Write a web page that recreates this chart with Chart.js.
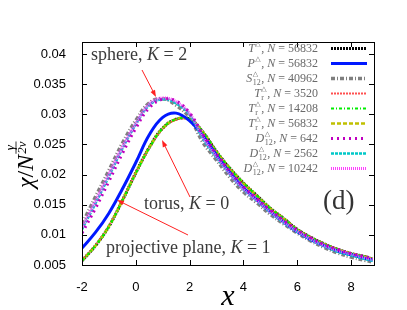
<!DOCTYPE html>
<html>
<head>
<meta charset="utf-8">
<script src="https://cdn.jsdelivr.net/npm/chart.js@4.4.0/dist/chart.umd.min.js"></script>
<style>
  html, body { margin: 0; padding: 0; background: #fff; }
  canvas { display: block; }
</style>
</head>
<body>
<canvas id="chiChart" width="407" height="310"></canvas>
<script>
// scaling variable x and the rescaled susceptibility
var xs = [-2, -1.5, -1, -0.5, 0, 0.5, 1, 1.5, 2, 2.5, 3, 3.5, 4, 4.5, 5, 5.5, 6, 6.5, 7, 7.5, 8, 8.5, 8.8];

// projective plane (K = 1)
var chiT56832   = [0.0057, 0.0082, 0.0114, 0.0157, 0.0203, 0.0245, 0.0277, 0.0292, 0.0292, 0.0270, 0.0238, 0.0210, 0.0186, 0.0165, 0.0144, 0.0127, 0.0109, 0.0096, 0.0085, 0.0076, 0.0069, 0.0064, 0.0060];
var chiTr3520   = [0.0058, 0.0083, 0.0115, 0.0158, 0.0203, 0.0244, 0.0276, 0.0291, 0.0291, 0.0269, 0.0237, 0.0209, 0.0185, 0.0164, 0.0143, 0.0126, 0.0108, 0.0095, 0.0084, 0.0076, 0.0069, 0.0063, 0.0060];
var chiTr14208  = [0.0057, 0.0082, 0.0114, 0.0157, 0.0202, 0.0244, 0.0277, 0.0292, 0.0292, 0.0270, 0.0238, 0.0210, 0.0186, 0.0165, 0.0144, 0.0127, 0.0109, 0.0096, 0.0085, 0.0076, 0.0069, 0.0064, 0.0060];
var chiTr56832  = [0.0057, 0.0082, 0.0114, 0.0157, 0.0203, 0.0245, 0.0277, 0.0292, 0.0292, 0.0270, 0.0238, 0.0210, 0.0186, 0.0165, 0.0144, 0.0127, 0.0109, 0.0096, 0.0085, 0.0076, 0.0069, 0.0064, 0.0060];
// torus (K = 0)
var chiP56832   = [0.0078, 0.0104, 0.0136, 0.0176, 0.0220, 0.0266, 0.0295, 0.0302, 0.0289, 0.0264, 0.0232, 0.0203, 0.0178, 0.0158, 0.0138, 0.0121, 0.0105, 0.0092, 0.0082, 0.0073, 0.0067, 0.0061, 0.0058];
// sphere (K = 2)
var chiS40962   = [0.0118, 0.0163, 0.0207, 0.0252, 0.0290, 0.0319, 0.0326, 0.0315, 0.0294, 0.0253, 0.0224, 0.0195, 0.0171, 0.0153, 0.0134, 0.0118, 0.0103, 0.0090, 0.0079, 0.0070, 0.0063, 0.0058, 0.0055];
var chiD642     = [0.0103, 0.0144, 0.0189, 0.0235, 0.0277, 0.0311, 0.0325, 0.0322, 0.0302, 0.0266, 0.0234, 0.0205, 0.0180, 0.0160, 0.0141, 0.0124, 0.0108, 0.0095, 0.0084, 0.0076, 0.0069, 0.0064, 0.0061];
var chiD2562    = [0.0109, 0.0152, 0.0197, 0.0243, 0.0283, 0.0315, 0.0325, 0.0318, 0.0299, 0.0259, 0.0228, 0.0200, 0.0175, 0.0156, 0.0137, 0.0120, 0.0105, 0.0092, 0.0081, 0.0072, 0.0066, 0.0060, 0.0057];
var chiD10242   = [0.0112, 0.0156, 0.0201, 0.0246, 0.0285, 0.0317, 0.0327, 0.0321, 0.0301, 0.0262, 0.0230, 0.0201, 0.0176, 0.0157, 0.0138, 0.0121, 0.0106, 0.0093, 0.0082, 0.0074, 0.0068, 0.0062, 0.0059];

// legend pieces: lattice letter, subscript, N
var latLetter = ['T', 'P', 'S', 'T', 'T', 'T', 'D', 'D', 'D'];
var latSub    = ['', '', '12', 'r', 'r', 'r', '12', '12', '12'];
var latN      = [56832, 56832, 40962, 3520, 14208, 56832, 642, 2562, 10242];

var xTicks = [-2, 0, 2, 4, 6, 8];
var yTicks = [0.005, 0.01, 0.015, 0.02, 0.025, 0.03, 0.035, 0.04];

var SERIF = '"Liberation Serif", "DejaVu Serif", serif';
var SANS = '"Liberation Sans", Arial, sans-serif';

function pts(ys) {
    return xs.map(function(x, i) { return { x: x, y: ys[i] }; });
}

function mkSet(ys, color, width, dash, order) {
    return {
        data: pts(ys),
        borderColor: color,
        backgroundColor: color,
        borderWidth: width,
        borderDash: dash,
        order: order,
        pointRadius: 0,
        tension: 0.4,
        fill: false
    };
}

function drawLabel(ctx, xr, y, letter, sub, n) {
    var fBig = '12px ' + SERIF, fIt = 'italic 12px ' + SERIF, fSm = '8px ' + SERIF, fTri = '7px "DejaVu Sans"';
    ctx.font = fIt; var wL = ctx.measureText(letter).width; var wN = ctx.measureText('N').width;
    ctx.font = fTri; var wT = ctx.measureText('\u25B3').width;
    ctx.font = fSm; var wS = sub ? ctx.measureText(sub).width : 0;
    ctx.font = fBig; var wC = ctx.measureText(', ').width; var wE = ctx.measureText(' = ' + n).width;
    var wScript = Math.max(wT, wS) + 1;
    var x = xr - (wL + wScript + wC + wN + wE);
    ctx.textBaseline = 'alphabetic';
    ctx.textAlign = 'left';
    var base = y + 4;
    ctx.font = fIt; ctx.fillText(letter, x, base); x += wL;
    ctx.font = fTri; ctx.fillText('\u25B3', x + 0.5, base - 6);
    if (sub) { ctx.font = fSm; ctx.fillText(sub, x + 0.5, base + 3); }
    x += wScript;
    ctx.font = fBig; ctx.fillText(', ', x, base); x += wC;
    ctx.font = fIt; ctx.fillText('N', x, base); x += wN;
    ctx.font = fBig; ctx.fillText(' = ' + n, x, base);
}

function arrow(ctx, x0, y0, x1, y1) {
    var a = Math.atan2(y1 - y0, x1 - x0), L = 7, W = 2.5;
    ctx.beginPath();
    ctx.moveTo(x0, y0);
    ctx.lineTo(x1 - Math.cos(a) * L * 0.8, y1 - Math.sin(a) * L * 0.8);
    ctx.stroke();
    ctx.beginPath();
    ctx.moveTo(x1, y1);
    ctx.lineTo(x1 - L * Math.cos(a) + W * Math.sin(a), y1 - L * Math.sin(a) - W * Math.cos(a));
    ctx.lineTo(x1 - L * Math.cos(a) - W * Math.sin(a), y1 - L * Math.sin(a) + W * Math.cos(a));
    ctx.closePath();
    ctx.fill();
}

var decor = {
    id: 'decor',
    afterDraw: function(chart) {
        var ctx = chart.ctx, ca = chart.chartArea;
        var xs_ = chart.scales.x, ys_ = chart.scales.y;
        ctx.save();
        // frame and inward ticks
        ctx.strokeStyle = '#000';
        ctx.lineWidth = 1;
        ctx.setLineDash([]);
        ctx.strokeRect(Math.round(ca.left) + 0.5, Math.round(ca.top) + 0.5, Math.round(ca.right - ca.left), Math.round(ca.bottom - ca.top));
        ctx.beginPath();
        xTicks.forEach(function(v) {
            var p = Math.round(xs_.getPixelForValue(v)) + 0.5;
            ctx.moveTo(p, ca.bottom); ctx.lineTo(p, ca.bottom - 5);
            ctx.moveTo(p, ca.top); ctx.lineTo(p, ca.top + 5);
        });
        yTicks.forEach(function(v) {
            var p = Math.round(ys_.getPixelForValue(v)) + 0.5;
            ctx.moveTo(ca.left, p); ctx.lineTo(ca.left + 5, p);
            ctx.moveTo(ca.right, p); ctx.lineTo(ca.right - 5, p);
        });
        ctx.stroke();

        // legend
        chart.data.datasets.forEach(function(ds, i) {
            var y = 48 + i * 15;
            ctx.fillStyle = '#6a6a6a';
            drawLabel(ctx, 318, y, latLetter[i], latSub[i], latN[i]);
            ctx.strokeStyle = ds.borderColor;
            ctx.lineWidth = ds.borderWidth;
            ctx.setLineDash(ds.borderDash || []);
            ctx.beginPath();
            ctx.moveTo(331, y + 0.5); ctx.lineTo(367, y + 0.5);
            ctx.stroke();
        });
        ctx.setLineDash([]);

        // annotations
        ctx.fillStyle = '#3a3a3a';
        ctx.textBaseline = 'alphabetic';
        ctx.textAlign = 'left';
        function note(parts, x, y, size) {
            parts.forEach(function(p) {
                ctx.font = (p[1] ? 'italic ' : '') + size + 'px ' + SERIF;
                ctx.fillText(p[0], x, y);
                x += ctx.measureText(p[0]).width;
            });
        }
        note([['sphere, ', 0], ['K', 1], [' = 2', 0]], 91, 60, 18);
        note([['torus, ', 0], ['K', 1], [' = 0', 0]], 144, 209, 18);
        note([['projective plane, ', 0], ['K', 1], [' = 1', 0]], 106, 253, 18);
        ctx.font = '27px ' + SERIF;
        ctx.fillStyle = '#333';
        ctx.fillText('(d)', 323, 209);

        ctx.strokeStyle = '#ff2020';
        ctx.fillStyle = '#ff2020';
        ctx.lineWidth = 1;
        arrow(ctx, 142, 70, 156, 97);
        arrow(ctx, 190, 197, 162, 140);
        arrow(ctx, 188, 235, 117, 200);

        // axis titles
        ctx.fillStyle = '#000';
        ctx.font = 'italic 30px ' + SERIF;
        ctx.textAlign = 'center';
        ctx.fillText('x', 228, 305);

        ctx.translate(33, 188);
        ctx.rotate(-Math.PI / 2);
        ctx.textAlign = 'left';
        var x = 0;
        ctx.font = 'italic 24px ' + SERIF; ctx.fillText('\u03C7', x, 0); x += ctx.measureText('\u03C7').width;
        ctx.font = '24px ' + SERIF; ctx.fillText('/', x, 0); x += ctx.measureText('/').width;
        ctx.font = 'italic 24px ' + SERIF; ctx.fillText('N', x, 0); x += ctx.measureText('N').width + 1;
        ctx.font = 'italic 13px ' + SERIF;
        var wd = ctx.measureText('2\u03BD').width;
        ctx.textAlign = 'center';
        ctx.fillText('\u03B3', x + wd / 2, -19);
        ctx.fillText('2\u03BD', x + wd / 2, -7);
        ctx.lineWidth = 0.8;
        ctx.strokeStyle = '#000';
        ctx.beginPath(); ctx.moveTo(x, -17); ctx.lineTo(x + wd, -17); ctx.stroke();
        ctx.restore();
    }
};

window.onload = function() {
    var ctx = document.getElementById('chiChart').getContext('2d');
    new Chart(ctx, {
        type: 'line',
        data: {
            datasets: [
                mkSet(chiT56832, '#000000', 3, [2, 1], 8),
                mkSet(chiP56832, '#0018ff', 3, [], 4),
                mkSet(chiS40962, '#7f7f7f', 3.5, [4, 2, 1, 2], 9),
                mkSet(chiTr3520, '#ff5050', 2, [2, 1], 7),
                mkSet(chiTr14208, '#00ee00', 2, [3, 2, 1, 2], 5),
                mkSet(chiTr56832, '#c0c000', 2.5, [4, 2], 6),
                mkSet(chiD642, '#c000c0', 3, [2, 4], 1),
                mkSet(chiD2562, '#00c8c8', 2.5, [3, 1], 3),
                mkSet(chiD10242, '#ff40ff', 3, [1, 1], 2)
            ]
        },
        options: {
            responsive: false,
            animation: false,
            layout: { padding: { left: 0, right: 33, top: 42, bottom: 0 } },
            plugins: { legend: { display: false }, tooltip: { enabled: false } },
            scales: {
                x: {
                    type: 'linear',
                    min: -2,
                    max: 8.85,
                    grid: { display: false },
                    border: { display: false },
                    afterBuildTicks: function(s) { s.ticks = xTicks.map(function(v) { return { value: v }; }); },
                    afterFit: function(s) { s.height = 45; },
                    ticks: {
                        padding: 7,
                        color: '#000',
                        maxRotation: 0,
                        font: { family: SANS, size: 13 }
                    }
                },
                y: {
                    type: 'linear',
                    min: 0.005,
                    max: 0.042,
                    grid: { display: false },
                    border: { display: false },
                    afterBuildTicks: function(s) { s.ticks = yTicks.map(function(v) { return { value: v }; }); },
                    afterFit: function(s) { s.width = 82; },
                    ticks: {
                        padding: 8,
                        color: '#000',
                        font: { family: SANS, size: 13 },
                        callback: function(v) { return String(Number(v.toFixed(3))); }
                    }
                }
            }
        },
        plugins: [decor]
    });
};
</script>
</body>
</html>
